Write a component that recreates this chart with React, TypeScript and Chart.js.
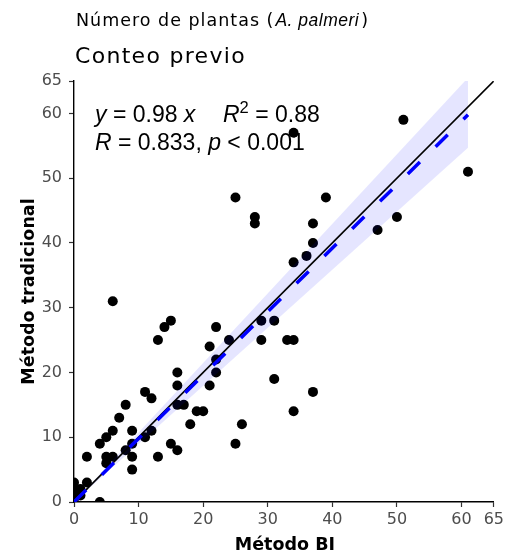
import { useEffect, useRef } from "react";
import { Chart, registerables } from "chart.js";

Chart.register(...registerables);

// Plant counts per plot: BI method (x) vs. traditional method (y)
const METODO_BI = [
  51, 34, 61, 25, 39, 28, 28, 50, 37, 47, 37, 36, 34, 6, 29, 31, 15, 14, 22, 13,
  24, 29, 33, 34, 21, 22, 16, 22, 31, 16, 21, 11, 37, 12, 8, 16, 17, 19, 20, 34,
  7, 18, 26, 6, 9, 12, 5, 11, 4, 9, 15, 25, 8, 16, 2, 5, 6, 9, 13, 5,
  9, 0, 2, 1, 0, 0, 1, 4, 0,
];
const METODO_TRADICIONAL = [
  59, 57, 51, 47, 47, 44, 43, 44, 43, 42, 40, 38, 37, 31, 28, 28, 28, 27, 27, 25,
  25, 25, 25, 25, 24, 22, 20, 20, 19, 18, 18, 17, 17, 16, 15, 15, 15, 14, 14, 14,
  13, 12, 12, 11, 11, 11, 10, 10, 9, 9, 9, 9, 8, 8, 7, 7, 7, 7, 7, 6,
  5, 3, 3, 2, 2, 1, 1, 0, 0,
];

const AXIS_TICKS = [0, 10, 20, 30, 40, 50, 60, 65];
const AXIS_MAX = 65;

// Fit through the origin and its confidence band
const SLOPE = 0.98;
const R2 = "0.88";
const R_VALUE = "0.833";
const P_TEXT = "0.001";
const FIT_X = [0, 61];
const BAND_LOWER = [0, 54.7];
const BAND_UPPER = [0, 65.5];
const IDENTITY_X = [0, 65];

const TITLE_FONT = "'DejaVu Sans', sans-serif";
const NOTE_FONT = "'Liberation Sans', Arial, sans-serif";

type Seg = { t: string; italic?: boolean; sup?: boolean };

function drawSegments(
  ctx: CanvasRenderingContext2D,
  segs: Seg[],
  x: number,
  y: number,
  size: number
) {
  let cx = x;
  for (const s of segs) {
    const fs = s.sup ? size * 0.72 : size;
    ctx.font = `${s.italic ? "italic " : ""}${fs}px ${NOTE_FONT}`;
    const dy = s.sup ? -size * 0.4 : 0;
    ctx.fillText(s.t, cx, y + dy);
    cx += ctx.measureText(s.t).width;
  }
}

const textPlugin = {
  id: "plotText",
  afterDraw(chart: Chart) {
    const ctx = chart.ctx as any;
    const area = chart.chartArea;
    ctx.save();
    ctx.fillStyle = "#000";
    ctx.textAlign = "left";
    ctx.textBaseline = "alphabetic";

    // Title: "Número de plantas (A. palmeri)"
    let x = 76;
    ctx.letterSpacing = "1px";
    ctx.font = `17.5px ${TITLE_FONT}`;
    const t1 = "Número de plantas (";
    ctx.fillText(t1, x, 26);
    x += ctx.measureText(t1).width + 1;
    ctx.letterSpacing = "0.5px";
    ctx.font = `italic 17.5px ${NOTE_FONT}`;
    const t2 = "A. palmeri";
    ctx.fillText(t2, x, 26);
    x += ctx.measureText(t2).width + 2;
    ctx.letterSpacing = "1px";
    ctx.font = `17.5px ${TITLE_FONT}`;
    ctx.fillText(")", x, 26);

    // Subtitle
    ctx.font = `22px ${TITLE_FONT}`;
    ctx.letterSpacing = "1.3px";
    ctx.fillText("Conteo previo", 75, 63);
    ctx.letterSpacing = "0px";

    // Regression annotation
    drawSegments(
      ctx,
      [{ t: "y", italic: true }, { t: ` = ${SLOPE} ` }, { t: "x", italic: true }],
      95,
      122,
      23
    );
    drawSegments(
      ctx,
      [{ t: "R", italic: true }, { t: "2", sup: true }, { t: ` = ${R2}` }],
      223,
      122,
      23
    );
    drawSegments(
      ctx,
      [
        { t: "R", italic: true },
        { t: ` = ${R_VALUE}, ` },
        { t: "p", italic: true },
        { t: ` < ${P_TEXT}` },
      ],
      95,
      150,
      23
    );

    // Axis titles
    ctx.font = `bold 17.5px ${TITLE_FONT}`;
    ctx.textAlign = "center";
    ctx.fillText("Método BI", (area.left + area.right) / 2 + 1, 550);
    ctx.translate(34, (area.top + area.bottom) / 2);
    ctx.rotate(-Math.PI / 2);
    ctx.fillText("Método tradicional", 0, 0);
    ctx.restore();
  },
};

function axisOptions(isX: boolean) {
  return {
    type: "linear" as const,
    min: 0,
    max: AXIS_MAX,
    afterBuildTicks: (scale: any) => {
      scale.ticks = AXIS_TICKS.map((v) => ({ value: v }));
    },
    afterFit: (scale: any) => {
      if (isX) scale.height = 50;
      else scale.width = 74;
    },
    grid: {
      display: true,
      drawOnChartArea: false,
      drawTicks: true,
      tickLength: 5,
      tickWidth: 1.2,
      tickColor: "#333333",
    },
    border: { display: true, color: "#000000", width: 1.4 },
    ticks: {
      autoSkip: false,
      maxRotation: 0,
      padding: isX ? 3 : 7,
      color: "#4d4d4d",
      font: { family: TITLE_FONT, size: 16 },
      callback: (v: any) => String(v),
    },
  };
}

export default function App() {
  const canvasRef = useRef<HTMLCanvasElement | null>(null);

  useEffect(() => {
    if (!canvasRef.current) return;
    const points = METODO_BI.map((x, i) => ({ x, y: METODO_TRADICIONAL[i] }));
    const chart = new Chart(canvasRef.current, {
      type: "scatter",
      data: {
        datasets: [
          {
            type: "scatter",
            data: points,
            pointRadius: 5,
            pointHoverRadius: 5,
            backgroundColor: "#000000",
            borderWidth: 0,
            clip: 0,
            order: 4,
          } as any,
          {
            type: "line",
            data: FIT_X.map((x, i) => ({ x, y: BAND_LOWER[i] })),
            borderWidth: 0,
            pointRadius: 0,
            fill: false,
            order: 3,
          },
          {
            type: "line",
            data: FIT_X.map((x, i) => ({ x, y: BAND_UPPER[i] })),
            borderWidth: 0,
            pointRadius: 0,
            fill: "-1",
            backgroundColor: "rgba(0, 0, 255, 0.1)",
            order: 3,
          },
          {
            type: "line",
            data: IDENTITY_X.map((x) => ({ x, y: x })),
            borderColor: "#000000",
            borderWidth: 1.6,
            pointRadius: 0,
            fill: false,
            order: 2,
          },
          {
            type: "line",
            data: FIT_X.map((x) => ({ x, y: SLOPE * x })),
            borderColor: "#0000ff",
            borderWidth: 3.5,
            borderDash: [17, 22],
            borderCapStyle: "butt",
            pointRadius: 0,
            fill: false,
            order: 1,
          },
        ],
      },
      options: {
        animation: false,
        responsive: false,
        maintainAspectRatio: false,
        layout: { padding: { top: 81, right: 12, left: 0, bottom: 0 } },
        plugins: {
          legend: { display: false },
          tooltip: { enabled: false },
          title: { display: false },
        },
        scales: {
          x: axisOptions(true),
          y: axisOptions(false),
        },
      },
      plugins: [textPlugin],
    });
    return () => chart.destroy();
  }, []);

  return (
    <div
      style={{
        position: "fixed",
        left: 0,
        top: 0,
        width: 507,
        height: 552,
        background: "#ffffff",
      }}
    >
      <canvas ref={canvasRef} width={507} height={552} />
    </div>
  );
}
